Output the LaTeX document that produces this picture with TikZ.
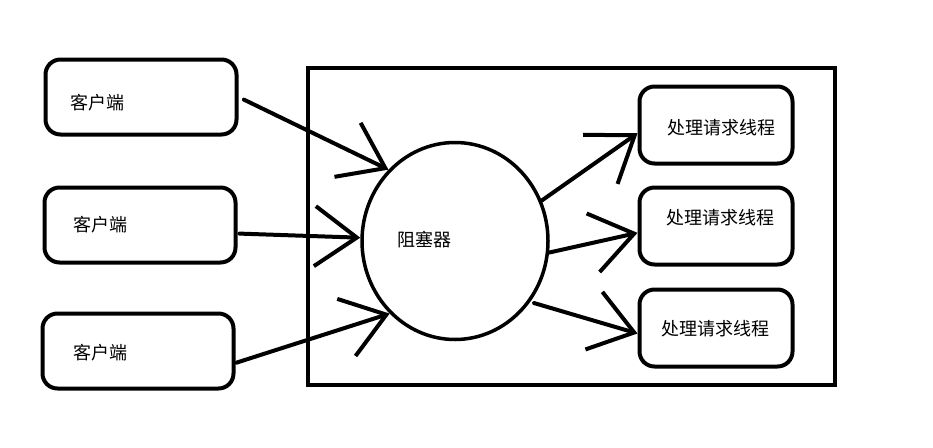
\documentclass[tikz,border=0pt]{standalone}
\usepackage{fontspec}
\newfontfamily\cjk{Noto Sans CJK SC}
\usetikzlibrary{arrows.meta,shapes.geometric}
\begin{document}
\begin{tikzpicture}[x=1pt, y=-1pt,
		every node/.style={font=\cjk\fontsize{18}{21}\selectfont},
		client/.style={draw, line width=4pt, rounded corners=15pt, minimum width=191pt, minimum height=75pt},
		worker/.style={draw, line width=4pt, rounded corners=15pt, minimum width=153pt, minimum height=77pt},
		arr/.style={line width=4pt, line cap=round, line join=round, -{Straight Barb[length=42pt, width=60pt]}}]
				\useasboundingbox (0,0) rectangle (933,447);

				\draw[line width=4.5pt] (308,68) rectangle (835,385);

				\node[client] (c1) at (141,97) {};
				\node[client] (c2) at (140,225) {};
				\node[client] (c3) at (138,351) {};
				\node[] (c1txt) at (97,103) {客户端};
				\node[] (c2txt) at (100,225) {客户端};
				\node[] (c3txt) at (100,353) {客户端};

				\node[ellipse, draw, line width=3.5pt, minimum width=186pt, minimum height=197pt] (blk) at (455,241) {};
				\node[] (blktxt) at (424,240) {阻塞器};

				\node[worker] (t1) at (716,125) {};
				\node[worker] (t2) at (716,226) {};
				\node[worker] (t3) at (716,328) {};
				\node[] (t1txt) at (721,128) {处理请求线程};
				\node[] (t2txt) at (720,218) {处理请求线程};
				\node[] (t3txt) at (715,329) {处理请求线程};

				\draw[arr, shorten <=6pt] (c1.east) -- (blk.133);
				\draw[arr, shorten <=2pt] (c2.-5) -- (blk.178);
				\draw[arr, shorten <=1pt] (c3.-7) -- (blk.228);

				\draw[arr] (blk.25) -- (t1.186);
				\draw[arr] (blk.353) -- (t2.185);
				\draw[arr, shorten <=4pt] (blk.321) -- (t3.184);
			\end{tikzpicture}
\end{document}
